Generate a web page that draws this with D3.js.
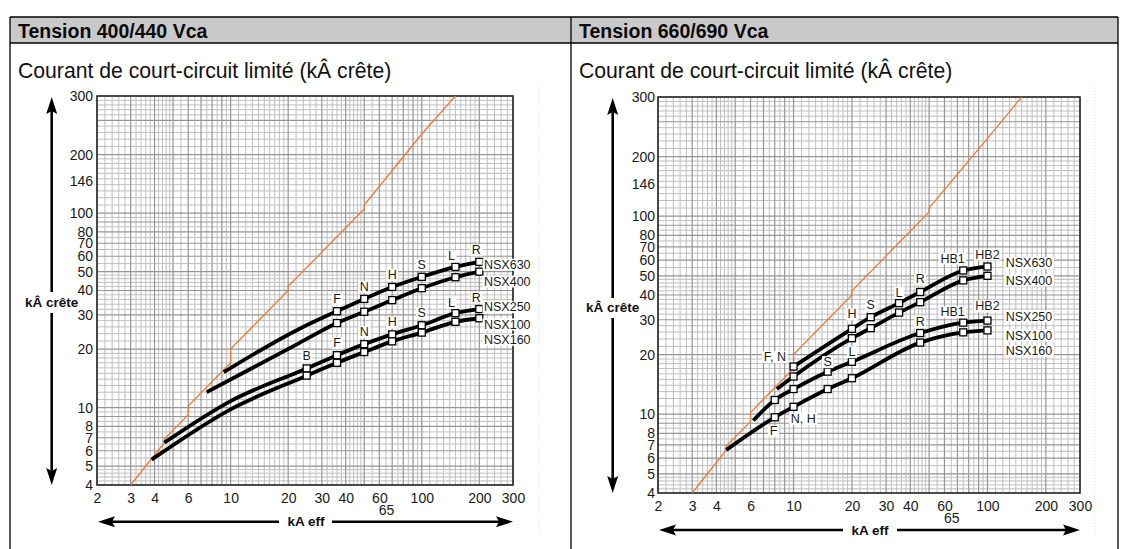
<!DOCTYPE html>
<html><head><meta charset="utf-8">
<script src="https://cdn.jsdelivr.net/npm/d3@7"></script>
<style>
html,body{margin:0;padding:0;background:#fff;}
svg{display:block;font-family:"Liberation Sans",Arial,Helvetica,sans-serif;}
</style></head><body>
<svg id="chart" width="1129" height="549"></svg>
<script>
// ================= DATA =================
const panelTitles = ["Tension 400/440 Vca", "Tension 660/690 Vca"];
const subTitle = "Courant de court-circuit limité (kÂ crête)";
const yAxisTitle = "kÂ crête";
const xAxisTitle = "kA eff";

const xTickValues = [2, 3, 4, 6, 10, 20, 30, 40, 60, 100, 200, 300];
const xExtraTick = [65];
const yTickValues = [4, 5, 6, 7, 8, 10, 20, 30, 40, 50, 60, 70, 80, 100, 146, 200, 400];
const yTickLabels = ["4", "5", "6", "7", "8", "10", "20", "30", "40", "50", "60", "70", "80", "100", "146", "200", "300"];

// ---- 400/440 V ----
const p1LimitX = [3, 4.5, 4.5, 6, 6, 10, 10, 20, 20, 50, 50, 100, 150];
const p1LimitY = [4, 6.6, 6.9, 9.2, 10.2, 17, 20, 40, 42, 105, 110, 255, 400];

const p1Nsx630X = [9.2, 22.7, 36, 50, 70, 100, 150, 200];
const p1Nsx630Y = [15.2, 25.3, 31.3, 36.2, 41.7, 47.0, 52.9, 56.1];
const p1Nsx630Tags = ["", "", "F", "N", "H", "S", "L", "R"];

const p1Nsx400X = [7.5, 22.7, 36, 50, 70, 100, 150, 200];
const p1Nsx400Y = [12.0, 21.4, 27.2, 31.1, 35.7, 41.1, 46.8, 50.0];
const p1Nsx400Tags = ["", "", "*", "*", "*", "*", "*", "*"];

const p1Nsx250X = [4.5, 10, 25, 36, 50, 70, 100, 150, 200];
const p1Nsx250Y = [6.6, 10.8, 15.9, 18.6, 21.2, 23.8, 26.5, 30.6, 32.1];
const p1Nsx250Tags = ["", "", "B", "F", "N", "H", "S", "L", "R"];

const p1Nsx100X = [3.86, 10, 25, 36, 50, 70, 100, 150, 200];
const p1Nsx100Y = [5.4, 9.8, 14.6, 17.0, 19.3, 21.9, 24.3, 27.6, 28.8];
const p1Nsx100Tags = ["", "", "*", "*", "*", "*", "*", "*", "*"];

const p1SeriesNames = ["NSX630", "NSX400", "NSX250", "NSX100", "NSX160"];

// ---- 660/690 V ----
const p2LimitX = [3, 4.5, 4.5, 6, 6, 10, 10, 20, 20, 50, 50, 100, 150];
const p2LimitY = [4, 6.6, 6.9, 9.2, 10.2, 17, 20, 40, 42, 105, 110, 247, 400];

const p2Nsx630X = [10, 20, 25, 35, 45, 75, 100];
const p2Nsx630Y = [17.4, 27.0, 30.9, 36.4, 41.4, 53.2, 55.7];
const p2Nsx630Tags = ["F, N", "H", "S", "L", "R", "HB1", "HB2"];

const p2Nsx400X = [8.2, 10, 20, 25, 35, 45, 75, 100];
const p2Nsx400Y = [13.4, 15.5, 24.2, 27.2, 32.6, 36.8, 47.4, 50.0];
const p2Nsx400Tags = ["", "*", "*", "*", "*", "*", "*", "*"];

const p2Nsx250X = [6.2, 8, 10, 15, 20, 45, 75, 100];
const p2Nsx250Y = [9.3, 11.8, 13.4, 16.4, 18.4, 25.7, 29.0, 29.7];
const p2Nsx250Tags = ["", "*", "*", "S", "L", "R", "HB1", "HB2"];

const p2Nsx100X = [4.5, 8, 10, 15, 20, 45, 75, 100];
const p2Nsx100Y = [6.6, 9.65, 10.9, 13.4, 15.2, 23.0, 25.9, 26.5];
const p2Nsx100Tags = ["", "F", "N, H", "*", "*", "*", "*", "*"];

const p2SeriesNames = ["NSX630", "NSX400", "NSX250", "NSX100", "NSX160"];

// ================= LAYOUT / STYLE =================
const table = {left: 10, mid: 571, right: 1118, top: 17, headBottom: 43, bottom: 549};
const panels = [
  {title: panelTitles[0], tx: 18, x0: 97, x1: 513, yb: 485, yt: 96,
   arrowX: 51.7, upFrom: 292, downFrom: 313, yTitleY: 302, yPad: 4,
   hY: 521.7, hLeftEnd: 279, hRightStart: 332, hTitleX: 306, xPad: 8,
   limit: [p1LimitX, p1LimitY],
   curves: [[p1Nsx630X, p1Nsx630Y, p1Nsx630Tags], [p1Nsx400X, p1Nsx400Y, p1Nsx400Tags],
            [p1Nsx250X, p1Nsx250Y, p1Nsx250Tags], [p1Nsx100X, p1Nsx100Y, p1Nsx100Tags]],
   tagOffset: {"L": [-4, -11], "R": [-3, -12]},
   defaultOffset: [0, -12.5],
   names: p1SeriesNames, nameX: 484, nameY: [264.3, 281, 306.7, 324, 339.3]},
  {title: panelTitles[1], tx: 579, x0: 658, x1: 1080, yb: 493, yt: 97,
   arrowX: 612.7, upFrom: 298, downFrom: 318, yTitleY: 307, yPad: 3,
   hY: 530, hLeftEnd: 843, hRightStart: 897, hTitleX: 870, xPad: 8.5,
   limit: [p2LimitX, p2LimitY],
   curves: [[p2Nsx630X, p2Nsx630Y, p2Nsx630Tags], [p2Nsx400X, p2Nsx400Y, p2Nsx400Tags],
            [p2Nsx250X, p2Nsx250Y, p2Nsx250Tags], [p2Nsx100X, p2Nsx100Y, p2Nsx100Tags]],
   tagOffsetByCurve: [
     {"F, N": [-18.6, -10], "H": [0, -15], "S": [0, -12.3], "L": [0, -11], "R": [0, -13.3], "HB1": [-10.7, -12.4], "HB2": [0, -12.4]},
     {},
     {"S": [0, -10], "L": [0, -10], "R": [0, -11.6], "HB1": [-10.7, -11], "HB2": [0, -14.7]},
     {"F": [-1.3, 13.7], "N, H": [9.7, 11.6]}
   ],
   defaultOffset: [0, -12],
   names: p2SeriesNames, nameX: 1005.7, nameY: [262.7, 280, 316, 335, 350.7]}
];
const textColor = "#1a1a1a";
const orange = "#ef7a35";

const svg = d3.select("#chart");

// ---- table frame ----
svg.append("rect").attr("x", table.left).attr("y", table.top)
  .attr("width", table.right - table.left).attr("height", table.headBottom - table.top)
  .attr("fill", "#c9c9c9");
const frame = svg.append("g").attr("stroke", "#000").attr("stroke-width", 1.3);
frame.append("line").attr("x1", table.left).attr("x2", table.right).attr("y1", table.top).attr("y2", table.top);
frame.append("line").attr("x1", table.left).attr("x2", table.right).attr("y1", table.headBottom).attr("y2", table.headBottom);
[table.left, table.mid, table.right].forEach(xv => {
  frame.append("line").attr("x1", xv).attr("x2", xv).attr("y1", table.top).attr("y2", table.bottom);
});

// faint guide lines
[539, 1095].forEach(xv => {
  svg.append("line").attr("x1", xv).attr("x2", xv).attr("y1", 85).attr("y2", 535)
    .attr("stroke", "#d9dee5").attr("stroke-width", 1).attr("stroke-dasharray", "1,2");
});

function gridVals(lo, hi) {
  const out = [];
  const steps = [[1, 2, 0.1], [2, 5, 0.2], [5, 10, 0.5]];
  for (let d = 1; d <= 1000; d *= 10) {
    for (const [a, b, s] of steps) {
      const n = Math.round((b - a) / s);
      for (let k = 0; k < n; k++) {
        const m = Math.round((a + k * s) * 10) / 10;
        const v = m * d;
        if (v >= lo - 1e-9 && v <= hi + 1e-9) out.push({v, major: Math.abs(m - Math.round(m)) < 1e-9});
      }
    }
  }
  return out;
}

function arrowHead(g, tipX, tipY, dir) {
  const L = 17, Wd = 5.5;
  let pts;
  if (dir === "up") pts = [[tipX, tipY], [tipX - Wd, tipY + L], [tipX, tipY + L - 3], [tipX + Wd, tipY + L]];
  if (dir === "down") pts = [[tipX, tipY], [tipX - Wd, tipY - L], [tipX, tipY - L + 3], [tipX + Wd, tipY - L]];
  if (dir === "left") pts = [[tipX, tipY], [tipX + L, tipY - Wd], [tipX + L - 3, tipY], [tipX + L, tipY + Wd]];
  if (dir === "right") pts = [[tipX, tipY], [tipX - L, tipY - Wd], [tipX - L + 3, tipY], [tipX - L, tipY + Wd]];
  g.append("path").attr("d", "M" + pts.map(p => p.join(",")).join("L") + "Z").attr("fill", "#000");
}

function labelWithBg(g, x, y, text, anchor) {
  const lg = g.append("g");
  const t = lg.append("text").attr("x", x).attr("y", y).attr("dy", "0.36em")
    .attr("text-anchor", anchor).attr("font-size", 12.5).attr("fill", textColor).text(text);
  const bb = t.node().getBBox();
  lg.insert("rect", "text").attr("x", bb.x - 1.5).attr("y", bb.y + 1).attr("width", bb.width + 3)
    .attr("height", bb.height - 2).attr("fill", "#fff");
}

panels.forEach((cfg, pi) => {
  const g = svg.append("g");
  // titles
  g.append("text").attr("x", cfg.tx).attr("y", 37.5).attr("font-size", 19.5).attr("font-weight", "bold")
    .attr("fill", "#0a0a0a").text(cfg.title);
  g.append("text").attr("x", cfg.tx).attr("y", 77.5).attr("font-size", 21.2)
    .attr("fill", "#111").text(subTitle);

  const x = d3.scaleLog().domain([2, 300]).range([cfg.x0, cfg.x1]);
  const y = d3.scaleLog().domain([4, 400]).range([cfg.yb, cfg.yt]);

  // grid
  const grid = g.append("g");
  const xg = gridVals(2, 300), yg = gridVals(4, 400);
  const minorC = "#bfbfbf", majorC = "#969696";
  [false, true].forEach(maj => {
    xg.filter(d => d.major === maj).forEach(d => {
      grid.append("line").attr("x1", x(d.v)).attr("x2", x(d.v)).attr("y1", cfg.yt).attr("y2", cfg.yb)
        .attr("stroke", maj ? majorC : minorC).attr("stroke-width", maj ? 1.2 : 1);
    });
    yg.filter(d => d.major === maj).forEach(d => {
      grid.append("line").attr("y1", y(d.v)).attr("y2", y(d.v)).attr("x1", cfg.x0).attr("x2", cfg.x1)
        .attr("stroke", maj ? majorC : minorC).attr("stroke-width", maj ? 1.2 : 1);
    });
  });
  g.append("rect").attr("x", cfg.x0).attr("y", cfg.yt).attr("width", cfg.x1 - cfg.x0)
    .attr("height", cfg.yb - cfg.yt).attr("fill", "none").attr("stroke", "#2a2a2a").attr("stroke-width", 1.6);

  // axes labels
  const ya = g.append("g").attr("transform", `translate(${cfg.x0},0)`)
    .call(d3.axisLeft(y).tickValues(yTickValues).tickFormat((d, i) => yTickLabels[i]).tickSize(0).tickPadding(cfg.yPad));
  ya.select(".domain").remove();
  ya.selectAll("text").attr("font-size", 14).attr("font-family", "Liberation Sans,Arial,sans-serif").attr("fill", textColor);

  const xa = g.append("g").attr("transform", `translate(0,${cfg.yb})`)
    .call(d3.axisBottom(x).tickValues(xTickValues).tickFormat(d3.format("d")).tickSize(0).tickPadding(cfg.xPad));
  xa.select(".domain").remove();
  xa.selectAll("text").attr("font-size", 14).attr("font-family", "Liberation Sans,Arial,sans-serif").attr("fill", textColor);

  const xa2 = g.append("g").attr("transform", `translate(0,${cfg.yb})`)
    .call(d3.axisBottom(x).tickValues(xExtraTick).tickFormat(d3.format("d")).tickSize(0).tickPadding(cfg.xPad + 12));
  xa2.select(".domain").remove();
  xa2.selectAll("text").attr("font-size", 14).attr("font-family", "Liberation Sans,Arial,sans-serif").attr("fill", textColor);

  // arrows
  const ag = g.append("g");
  ag.append("line").attr("x1", cfg.arrowX).attr("x2", cfg.arrowX).attr("y1", cfg.upFrom).attr("y2", cfg.yt + 12)
    .attr("stroke", "#000").attr("stroke-width", 2.6);
  arrowHead(ag, cfg.arrowX, cfg.yt + 1, "up");
  ag.append("line").attr("x1", cfg.arrowX).attr("x2", cfg.arrowX).attr("y1", cfg.downFrom).attr("y2", cfg.yb - 12)
    .attr("stroke", "#000").attr("stroke-width", 2.6);
  arrowHead(ag, cfg.arrowX, cfg.yb, "down");
  ag.append("text").attr("x", cfg.arrowX).attr("y", cfg.yTitleY).attr("dy", "0.35em").attr("text-anchor", "middle")
    .attr("font-size", 13.5).attr("font-weight", "bold").attr("fill", "#111").text(yAxisTitle);

  ag.append("line").attr("y1", cfg.hY).attr("y2", cfg.hY).attr("x1", cfg.x0 + 12).attr("x2", cfg.hLeftEnd)
    .attr("stroke", "#000").attr("stroke-width", 2.6);
  arrowHead(ag, cfg.x0 + 1, cfg.hY, "left");
  ag.append("line").attr("y1", cfg.hY).attr("y2", cfg.hY).attr("x1", cfg.hRightStart).attr("x2", cfg.x1 - 12)
    .attr("stroke", "#000").attr("stroke-width", 2.6);
  arrowHead(ag, cfg.x1, cfg.hY, "right");
  ag.append("text").attr("x", cfg.hTitleX).attr("y", cfg.hY).attr("dy", "0.35em").attr("text-anchor", "middle")
    .attr("font-size", 13.5).attr("font-weight", "bold").attr("fill", "#111").text(xAxisTitle);

  // limit (orange) line
  const lim = cfg.limit[0].map((v, i) => [v, cfg.limit[1][i]]);
  g.append("path").datum(lim)
    .attr("d", d3.line().x(d => x(d[0])).y(d => y(d[1])))
    .attr("fill", "none").attr("stroke", orange).attr("stroke-width", 1.3);

  // curves
  const line = d3.line().x(d => x(d[0])).y(d => y(d[1])).curve(d3.curveMonotoneX);
  cfg.curves.forEach(c => {
    const pts = c[0].map((v, i) => [v, c[1][i], c[2][i]]);
    g.append("path").datum(pts).attr("d", line)
      .attr("fill", "none").attr("stroke", "#000").attr("stroke-width", 3.8);
  });
  const labelsG = g.append("g");
  cfg.curves.forEach((c, ci) => {
    const pts = c[0].map((v, i) => [v, c[1][i], c[2][i]]);
    const marked = pts.filter(d => d[2] !== "");
    g.selectAll(null).data(marked).enter().append("rect")
      .attr("x", d => x(d[0]) - 3.5).attr("y", d => y(d[1]) - 3.5)
      .attr("width", 7).attr("height", 7).attr("fill", "#fff").attr("stroke", "#000").attr("stroke-width", 1.3);
    marked.filter(d => d[2] !== "*").forEach(d => {
      let off = cfg.defaultOffset;
      if (cfg.tagOffsetByCurve && cfg.tagOffsetByCurve[ci][d[2]]) off = cfg.tagOffsetByCurve[ci][d[2]];
      else if (cfg.tagOffset && cfg.tagOffset[d[2]]) off = cfg.tagOffset[d[2]];
      labelWithBg(labelsG, x(d[0]) + off[0], y(d[1]) + off[1], d[2], "middle");
    });
  });
  // series names
  cfg.names.forEach((n, i) => labelWithBg(labelsG, cfg.nameX, cfg.nameY[i], n, "start"));
  labelsG.raise();
});
</script>
</body></html>
